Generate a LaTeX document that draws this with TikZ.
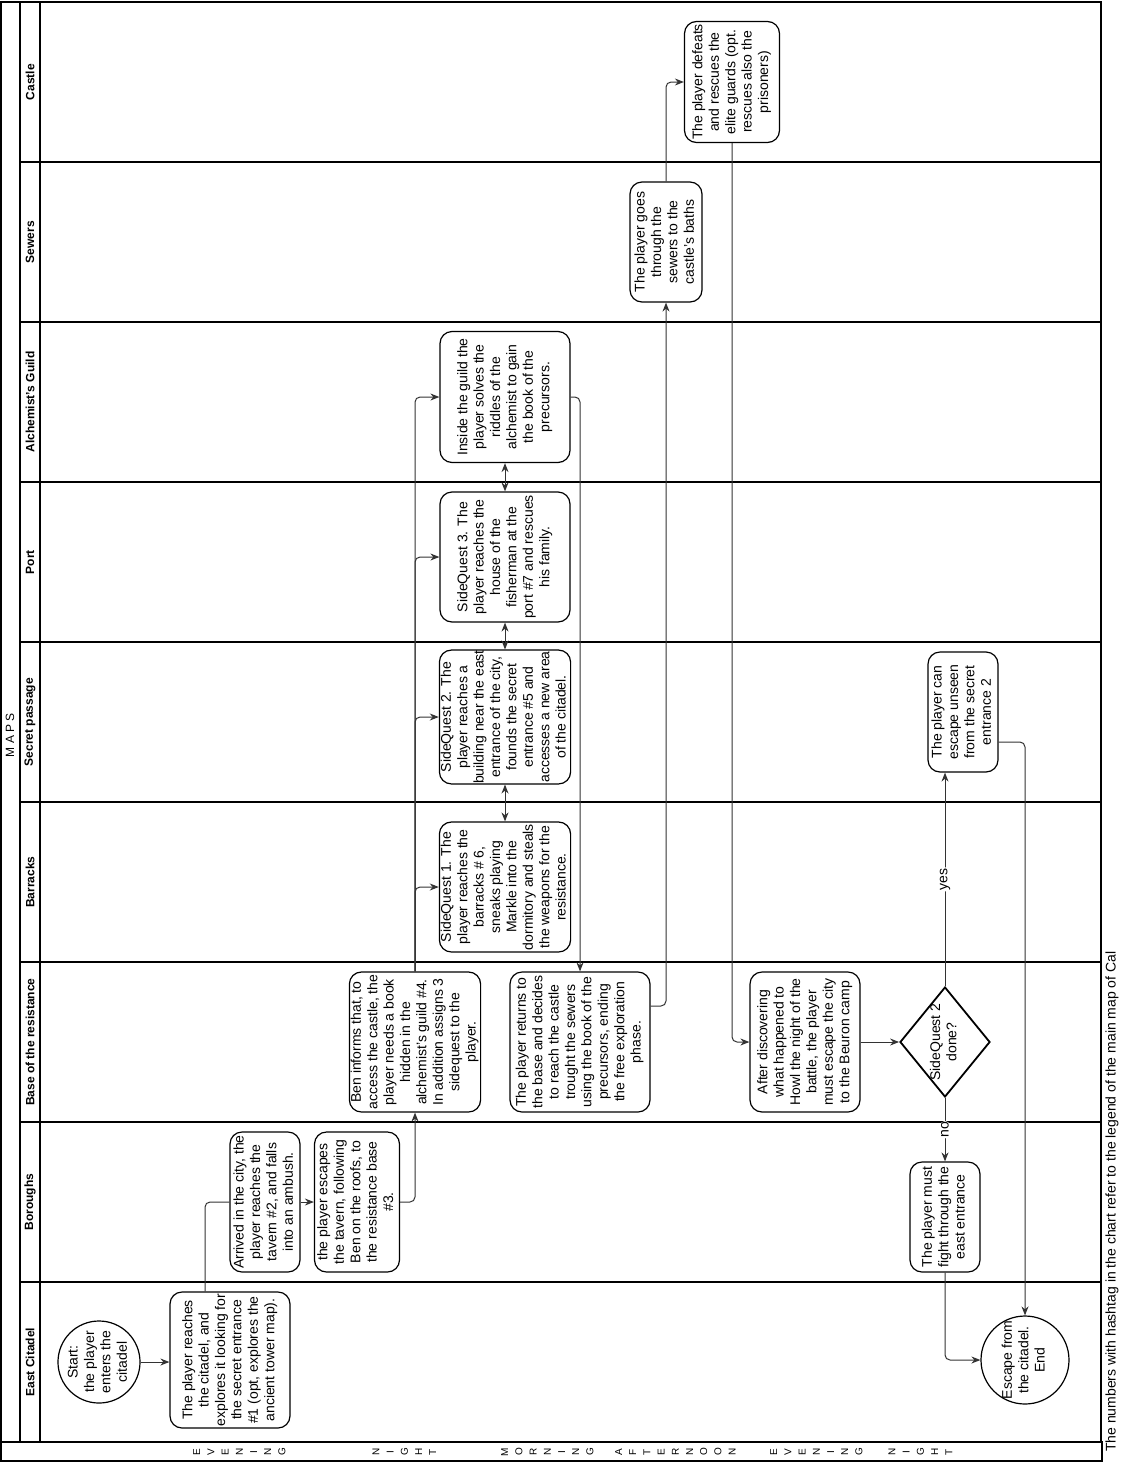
\documentclass[tikz,border=0pt]{standalone}
\usepackage{fontspec}
\setmainfont{Liberation Sans}
\usepackage{graphicx}
\usetikzlibrary{arrows.meta,shapes.geometric}
\newcommand{\boxfont}{\fontsize{14}{16.4}\selectfont}
\newcommand{\lanefont}{\fontsize{12}{14}\selectfont\bfseries}
\newcommand{\timefont}{\fontsize{10}{14.2}\selectfont}
\newcommand{\vtext}[1]{\rotatebox{90}{\begin{tabular}{@{}c@{}}#1\end{tabular}}}
\tikzset{
  boxsize/.style args={#1:#2}{minimum width=#1pt, minimum height=#2pt},
  proc/.style={draw, line width=1.2pt, rounded corners=12pt, inner sep=0pt, font=\boxfont},
  terminal/.style={draw, circle, line width=1.2pt, inner sep=-3pt, font=\boxfont},
  decision/.style={draw, diamond, line width=1.8pt, inner sep=-8pt,
    minimum width=90pt, minimum height=110pt, font=\boxfont},
  flow/.style={draw=black!80, line width=1pt, rounded corners=5pt},
  lane/.style={draw, line width=1.2pt},
  lanelabel/.style={rotate=90, font=\lanefont},
  flowlabel/.style={midway, rotate=90, fill=white, inner sep=1pt, font=\boxfont},
}

\begin{document}
\begin{tikzpicture}[x=1pt, y=-1pt, >={Stealth[length=9pt,width=7pt]}]
\useasboundingbox (0,0) rectangle (1121,1462);
% pool, lanes and time strip
\draw[lane] (1,2) rectangle (1101,1442);
\draw[lane] (20,2) -- (20,1442);
\foreach \lane [count=\i from 0] in {Castle,Sewers,Alchemist's Guild,Port,Secret passage,Barracks,Base of the resistance,Boroughs,East Citadel} {
  \draw[lane] (20,2+160*\i) rectangle (1101,162+160*\i);
  \node[lanelabel] (lane\i) at (30,82+160*\i) {\lane};
}
\draw[lane] (40,2) -- (40,1442);
\node[rotate=90, font=\fontsize{12}{14}\selectfont] (pool) at (10,735) {M A P S};
\draw[lane] (1,1442) rectangle (1102,1461);
\foreach \word/\xpos [count=\k] in {E\\V\\E\\N\\I\\N\\G/240, N\\I\\G\\H\\T/405, M\\O\\R\\N\\I\\N\\G/548,
    A\\F\\T\\E\\R\\N\\O\\O\\N/676, E\\V\\E\\N\\I\\N\\G/817, N\\I\\G\\H\\T/921} {
  \node[font=\timefont, inner sep=0pt] (time\k) at (\xpos,1452) {\vtext{\word}};
}
\node[rotate=90, anchor=west, font=\boxfont, inner sep=0pt] (footnote) at (1112,1452)
  {The numbers with hashtag in the chart refer to the legend of the main map of Cal};

% steps
\node[terminal, minimum size=82pt] (start) at (99,1362) {\vtext{Start:\\the player\\enters the\\citadel}};
\node[proc, boxsize=120:136] (citadel) at (230,1360) {\vtext{The player reaches\\the citadel, and\\explores it looking for\\the secret entrance\\\#1 (opt, explores the\\ancient tower map).}};
\node[proc, boxsize=70:140] (tavern) at (265,1202) {\vtext{Arrived in the city, the\\player reaches the\\tavern \#2, and falls\\into an ambush.}};
\node[proc, boxsize=85:140] (roofs) at (357,1202) {\vtext{the player escapes\\the tavern, following\\Ben on the roofs, to\\the resistance base\\\#3.}};
\node[proc, boxsize=130:140] (ben) at (415,1042) {\vtext{Ben informs that, to\\access the castle, the\\player needs a book\\hidden in the\\alchemist's guild \#4.\\In addition assigns 3\\sidequest to the\\player.}};
\node[proc, boxsize=140:140] (returns) at (580,1042) {\vtext{The player returns to\\the base and decides\\to reach the castle\\trought the sewers\\using the book of the\\precursors, ending\\the free exploration\\phase.}};
\node[proc, boxsize=130:130] (quest1) at (505,887) {\vtext{SideQuest 1. The\\player reaches the\\barracks \# 6,\\sneaks playing\\Markle into the\\dormitory and steals\\the weapons for the\\resistance.}};
\node[proc, boxsize=130:131] (quest2) at (505,717) {\vtext{SideQuest 2. The\\player reaches a\\building near the east\\entrance of the city,\\founds the secret\\entrance \#5 and\\accesses a new area\\of the citadel.}};
\node[proc, boxsize=130:130] (quest3) at (505,557) {\vtext{SideQuest 3. The\\player reaches the\\house of the\\fisherman at the\\port \#7 and rescues\\his family.}};
\node[proc, boxsize=130:131] (guild) at (505,397) {\vtext{Inside the guild the\\player solves the\\riddles of the\\alchemist to gain\\the book of the\\precursors.}};
\node[proc, boxsize=72:120] (sewers) at (666,242) {\vtext{The player goes\\through the\\sewers to the\\castle's baths}};
\node[proc, boxsize=95:121] (castle) at (732,82) {\vtext{The player defeats\\and rescues the\\elite guards (opt.\\rescues also the\\prisoners)}};
\node[proc, boxsize=110:140] (howl) at (805,1042) {\vtext{After discovering\\what happened to\\Howl the night of the\\battle, the player\\must escape the city\\to the Beuron camp}};
\node[decision] (done) at (945,1042) {\vtext{SideQuest 2\\done?}};
\node[proc, boxsize=70:120] (unseen) at (963,712) {\vtext{The player can\\escape unseen\\from the secret\\entrance 2}};
\node[proc, boxsize=70:110] (fight) at (945,1217) {\vtext{The player must\\fight through the\\east entrance}};
\node[terminal, inner sep=-2pt, minimum size=88pt] (end) at (1025,1360) {\vtext{Escape from\\the citadel.\\End}};

% connectors
\draw[flow,->] (start) -- (start -| citadel.west);
\draw[flow] ([xshift=-25pt]citadel.north) |- (tavern.west);
\draw[flow,->] (tavern) -- (roofs);
\draw[flow,->] (roofs.east) -| (ben.south);
\foreach \q in {quest1,quest2,quest3,guild}
  \draw[flow,->] (ben.north) |- (\q.west);
\draw[flow,<->] (quest1) -- (quest2);
\draw[flow,<->] (quest2) -- (quest3);
\draw[flow,<->] (quest3) -- (guild);
\draw[flow,->] (guild.east) -| (returns.north);
\draw[flow,->] ([yshift=36pt]returns.east) -| (sewers.south);
\draw[flow,->] (sewers.north) |- (castle.west);
\draw[flow,->] (castle.south) |- (howl.west);
\draw[flow,->] (howl) -- (done);
\draw[flow,->] (done.north) -- (done.north |- unseen.south) node[flowlabel] (yes) {yes};
\draw[flow,->] (done.south) -- (fight.north) node[flowlabel] (no) {no};
\draw[flow,->] ([yshift=-30pt]unseen.east) -| (end.north);
\draw[flow,->] (fight.south) |- (end.west);
\end{tikzpicture}
\end{document}
